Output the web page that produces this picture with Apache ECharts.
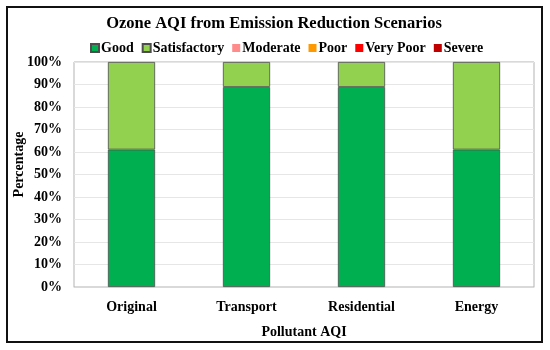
<!DOCTYPE html>
<html>
<head>
<meta charset="utf-8">
<script src="https://cdn.jsdelivr.net/npm/echarts@6/dist/echarts.min.js"></script>
<style>html,body{margin:0;padding:0;background:#fff}#c{width:550px;height:350px}</style>
</head>
<body>
<div id="c"></div>
<script>
const categories = ['Original', 'Transport', 'Residential', 'Energy'];
const seriesNames = ['Good', 'Satisfactory', 'Moderate', 'Poor', 'Very Poor', 'Severe'];
const good = [61.1, 88.9, 88.9, 61.1];
const satisfactory = [38.9, 11.1, 11.1, 38.9];
const moderate = [0, 0, 0, 0];
const poor = [0, 0, 0, 0];
const veryPoor = [0, 0, 0, 0];
const severe = [0, 0, 0, 0];
const yTicks = [0, 10, 20, 30, 40, 50, 60, 70, 80, 90, 100];

const colors = ['#00B050', '#92D050', '#FF8B8B', '#FF9900', '#FF0000', '#C00000'];
const values = [good, satisfactory, moderate, poor, veryPoor, severe];
const font = '"Liberation Serif", "Times New Roman", serif';

const chart = echarts.init(document.getElementById('c'), null, {renderer: 'canvas'});
chart.setOption({
  animation: false,
  title: {
    text: 'Ozone AQI from Emission Reduction Scenarios',
    left: 269, top: 10, textAlign: 'center',
    textStyle: {fontFamily: font, fontWeight: 'bold', fontSize: 16.5, color: '#000'}
  },
  legend: {
    data: seriesNames, top: 36, left: 85,
    icon: 'rect', itemWidth: 8, itemHeight: 8, itemGap: 8,
    textStyle: {fontFamily: font, fontWeight: 'bold', fontSize: 14, color: '#000', padding: [0, 0, 0, -3]}
  },
  grid: {left: 74, right: 16, top: 62, bottom: 63, show: true, borderColor: '#b3b3b3', borderWidth: 1},
  xAxis: {
    type: 'category', data: categories,
    name: 'Pollutant AQI', nameLocation: 'middle', nameGap: 38,
    nameTextStyle: {fontFamily: font, fontWeight: 'bold', fontSize: 14, color: '#000'},
    axisLine: {lineStyle: {color: '#d9d9d9'}},
    axisTick: {show: false},
    axisLabel: {fontFamily: font, fontWeight: 'bold', fontSize: 14, color: '#000', margin: 13}
  },
  yAxis: {
    type: 'value', min: 0, max: 100, interval: 10,
    name: 'Percentage', nameLocation: 'middle', nameGap: 48, nameMoveOverlap: false,
    nameTextStyle: {fontFamily: font, fontWeight: 'bold', fontSize: 14, color: '#000', padding: [0, 0, 0, 20]},
    axisLine: {show: false},
    axisTick: {show: false},
    splitLine: {lineStyle: {color: '#e6e6e6'}},
    axisLabel: {fontFamily: font, fontWeight: 'bold', fontSize: 14, color: '#000', margin: 12,
      formatter: v => yTicks.includes(v) ? v + '%' : ''}
  },
  series: seriesNames.map((n, i) => ({
    name: n, type: 'bar', stack: 'total', barWidth: '41%',
    data: values[i],
    itemStyle: {color: colors[i], borderColor: '#4d4d4d', borderWidth: values[i].some(v => v > 0) ? 0.8 : 0}
  })),
  graphic: [{
    type: 'rect', shape: {x: 7, y: 7, width: 535, height: 335},
    style: {fill: 'none', stroke: '#111', lineWidth: 2}, silent: true
  }]
});
</script>
</body>
</html>
